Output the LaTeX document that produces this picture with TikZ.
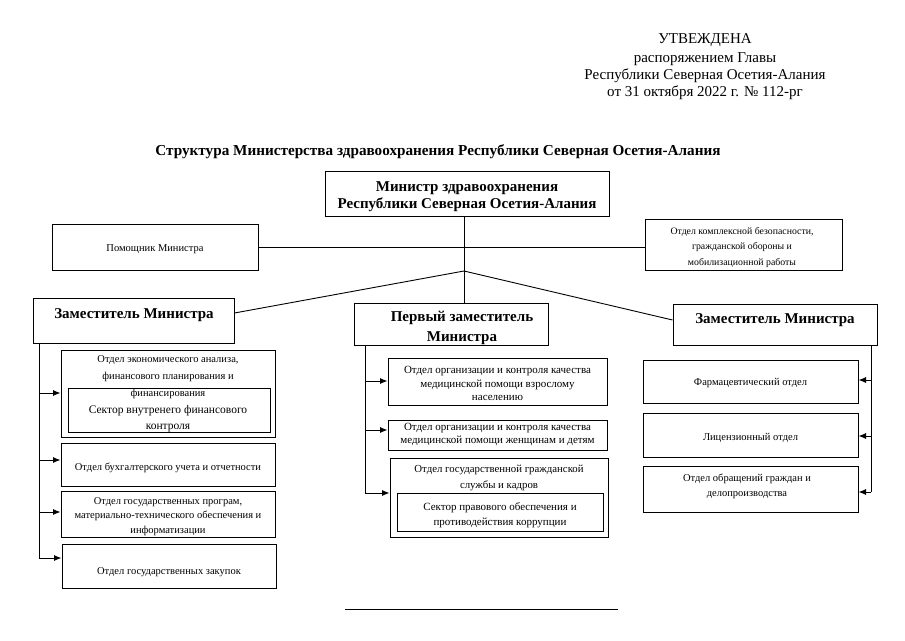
\documentclass[tikz,border=0pt]{standalone}
\usepackage{fontspec}
\setmainfont{Liberation Serif}
\usetikzlibrary{arrows.meta}
\tikzset{
  bx/.style n args={2}{draw, line width=1pt, inner sep=0pt, minimum width=#1, minimum height=#2},
  sm/.style={font=\fontsize{10.5}{17}\selectfont, align=center, inner sep=0pt, yshift=-2pt},
  sec/.style={font=\fontsize{11.5}{15.5}\selectfont, align=center, inner sep=0pt, yshift=-2pt},
  big/.style={font=\fontsize{15}{20}\selectfont\bfseries, align=center, inner sep=0pt, yshift=-2pt},
  hdr/.style={font=\fontsize{15}{17}\selectfont, inner sep=0pt, yshift=-2pt},
  ln/.style={line width=0.9pt},
  arr/.style={line width=0.9pt, -{Latex[length=7.5pt,width=6pt]}}
}
\begin{document}
\begin{tikzpicture}[x=1pt,y=-1pt]
\useasboundingbox (0,0) rectangle (905,640);
% header
\node[hdr] (h1) at (705,38) {УТВЕЖДЕНА};
\node[hdr] (h2) at (705,57) {распоряжением Главы};
\node[hdr] (h3) at (705,74) {Республики Северная Осетия-Алания};
\node[hdr] (h4) at (705,91) {от 31 октября 2022 г. № 112-рг};
\node[big, font=\fontsize{15.2}{20}\selectfont\bfseries] (title) at (438,150) {Структура Министерства здравоохранения Республики Северная Осетия-Алания};
% minister
\node[bx={284pt}{45pt}] (min) at (467,193.5) {};
\node[big, font=\fontsize{15}{17}\selectfont\bfseries] (mint) at (467,194.5) {Министр здравоохранения\\Республики Северная Осетия-Алания};
% side boxes
\node[bx={206pt}{46pt}] (pom) at (155,247) {};
\node[sm] (pomt) at (155,247) {Помощник Министра};
\node[bx={197pt}{51pt}] (bez) at (743.5,244.5) {};
\node[sm, font=\fontsize{9.8}{15.5}\selectfont] (bezt) at (742,245.5) {Отдел комплексной безопасности,\\гражданской обороны и\\мобилизационной работы};
% deputies
\node[bx={201pt}{45pt}] (zl) at (133.5,320.5) {};
\node[big] (zlt) at (134,313) {Заместитель Министра};
\node[bx={194pt}{42pt}] (zm) at (451,324) {};
\node[big] (zmt) at (462,326) {Первый заместитель\\Министра};
\node[bx={204pt}{41pt}] (zr) at (775,324.5) {};
\node[big] (zrt) at (775,318) {Заместитель Министра};
% left departments
\node[bx={214pt}{87pt}] (l1) at (168,393.5) {};
\node[sm] (l1t) at (168,375) {Отдел экономического анализа,\\финансового планирования и\\финансирования};
\node[bx={202pt}{44pt}] (l1s) at (169,410) {};
\node[sec] (l1st) at (168,416.5) {Сектор внутренего финансового\\контроля};
\node[bx={214pt}{43pt}] (l2) at (168,464.5) {};
\node[sm] (l2t) at (168,466) {Отдел бухгалтерского учета и отчетности};
\node[bx={214pt}{46pt}] (l3) at (168,514) {};
\node[sm, font=\fontsize{10.5}{14.5}\selectfont] (l3t) at (168,514.5) {Отдел государственных програм,\\материально-технического обеспечения и\\информатизации};
\node[bx={214pt}{44pt}] (l4) at (169,566) {};
\node[sm] (l4t) at (169,570) {Отдел государственных закупок};
% middle departments
\node[bx={219pt}{47pt}] (m1) at (497.5,381.5) {};
\node[sm, font=\fontsize{11}{13.5}\selectfont] (m1t) at (497.5,381.5) {Отдел организации и контроля качества\\медицинской помощи взрослому\\населению};
\node[bx={219pt}{30pt}] (m2) at (497.5,435) {};
\node[sm, font=\fontsize{11}{12.5}\selectfont] (m2t) at (497.5,432.5) {Отдел организации и контроля качества\\медицинской помощи женщинам и детям};
\node[bx={218pt}{79pt}] (m3) at (499,497.5) {};
\node[sm, font=\fontsize{10.8}{16}\selectfont] (m3t) at (499,476) {Отдел государственной гражданской\\службы и кадров};
\node[bx={206pt}{38pt}] (m3s) at (500,512) {};
\node[sec, font=\fontsize{11}{15}\selectfont] (m3st) at (500,513.5) {Сектор правового обеспечения и\\противодействия коррупции};
% right departments
\node[bx={215pt}{43pt}] (r1) at (750.5,381.5) {};
\node[sm] (r1t) at (750.5,381) {Фармацевтический отдел};
\node[bx={215pt}{44pt}] (r2) at (750.5,435) {};
\node[sm] (r2t) at (750.5,436) {Лицензионный отдел};
\node[bx={215pt}{46pt}] (r3) at (750.5,489) {};
\node[sm, font=\fontsize{10.5}{15}\selectfont] (r3t) at (747,484.5) {Отдел обращений граждан и\\делопроизводства};
% connectors
\coordinate (j) at (464,271);
\draw[ln] (min.south -| j) -- (zm.north -| j);
\draw[ln] (pom.east) -- (pom.east -| bez.west);
\draw[ln] (j) -- (zl.east |- 0,313);
\draw[ln] (j) -- (zr.west |- 0,320);
% left bus
\coordinate (lb) at (39,558);
\draw[ln] (zl.south -| lb) -- (lb);
\draw[arr] (39,393) -- (l1.west |- 0,393);
\draw[arr] (39,460) -- (l2.west |- 0,460);
\draw[arr] (39,512) -- (l3.west |- 0,512);
\draw[arr] (lb) -- (l4.west |- lb);
% middle bus
\coordinate (mb) at (365,493);
\draw[ln] (zm.south -| mb) -- (mb);
\draw[arr] (365,381) -- (m1.west |- 0,381);
\draw[arr] (365,430) -- (m2.west |- 0,430);
\draw[arr] (mb) -- (m3.west |- mb);
% right bus
\coordinate (rb) at (871,492);
\draw[ln] (zr.south -| rb) -- (rb);
\draw[arr] (871,380) -- (r1.east |- 0,380);
\draw[arr] (871,436) -- (r2.east |- 0,436);
\draw[arr] (rb) -- (r3.east |- rb);
% bottom rule
\draw[ln] (345,609) -- (618,609);
\end{tikzpicture}
\end{document}
